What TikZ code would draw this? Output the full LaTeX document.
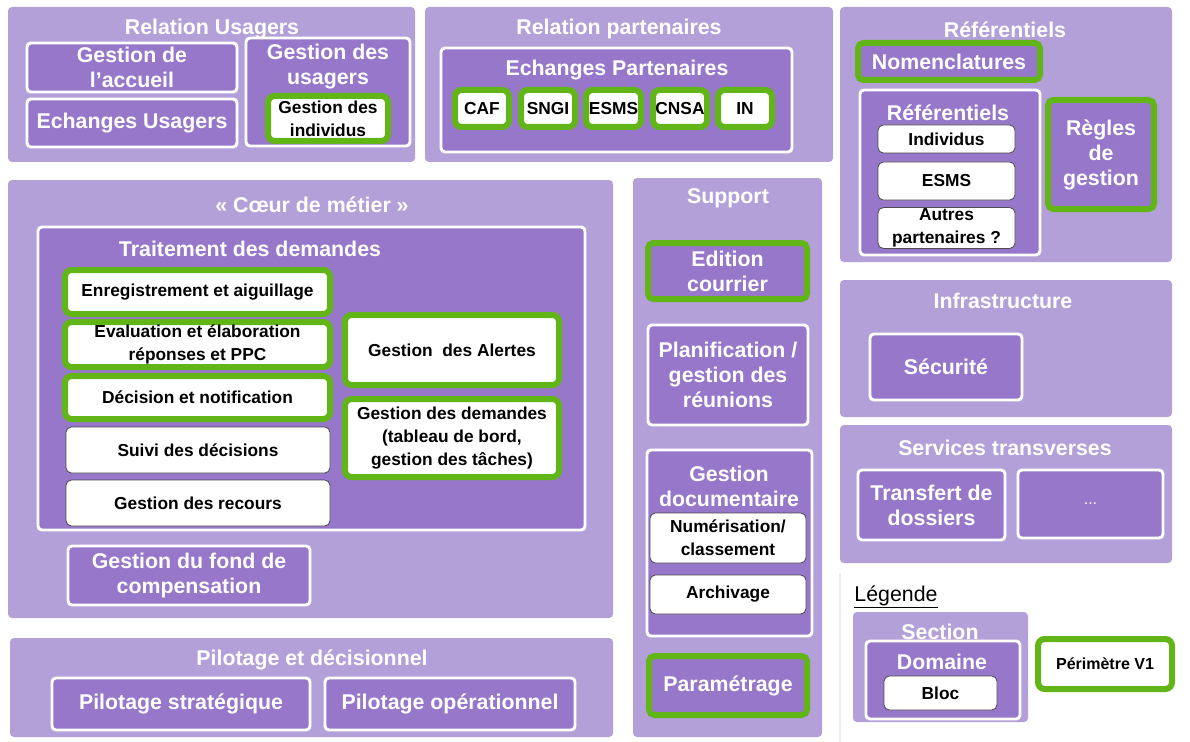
\documentclass[tikz,border=0pt]{standalone}
\usepackage{fontspec}
\setmainfont{Liberation Sans}
\definecolor{secL}{HTML}{B4A0D8}
\definecolor{domP}{HTML}{9677C9}
\definecolor{grn}{HTML}{62B516}
\newcommand\myTfont{\bfseries\fontsize{16}{18.75}\selectfont}
\newcommand\myBfont{\bfseries\fontsize{13}{17}\selectfont}
\newcommand\mySfont{\bfseries\fontsize{12}{16}\selectfont}
\newcommand\bx[7]{\node[#2, minimum width={(#5-#3)*0.75pt}, minimum height={(#6-#4)*0.75pt}] (#1) at ({(#3+#5)/2},{(#4+#6)/2}) {#7};}
\tikzset{
 sec/.style={fill=secL, rounded corners=3pt, inner sep=1pt},
 dom/.style={fill=domP, draw=white, line width=2.2pt, rounded corners=3pt, text=white, font=\myTfont, align=center, inner sep=1pt},
 blk/.style={fill=white, draw=black!70, line width=0.6pt, rounded corners=4pt, text=black, font=\myBfont, align=center, inner sep=1pt},
 gblk/.style={fill=white, draw=grn, line width=4.5pt, rounded corners=5pt, text=black, font=\myBfont, align=center, inner sep=1pt},
 gdom/.style={fill=domP, draw=grn, line width=4.5pt, rounded corners=4pt, text=white, font=\myTfont, align=center, inner sep=1pt},
 ttl/.style={text=white, font=\myTfont, align=center, inner sep=0pt},
}
\begin{document}
\begin{tikzpicture}[x=0.75pt,y=-0.75pt]
\useasboundingbox[fill=white] (0,0) rectangle (1190,742);
% ---------- Relation Usagers
\bx{ru}{sec}{8}{7}{415}{162}{}
\node[ttl] (ru-t) at (212,29) {Relation Usagers};
\bx{acc}{dom}{27}{43}{237}{92}{Gestion de\\l’accueil}
\bx{echu}{dom}{27}{99}{237}{147}{Echanges Usagers}
\bx{gu}{dom}{246}{38}{410}{146}{}
\node[ttl] (gu-t) at (328,67) {Gestion des\\usagers};
\bx{gi}{gblk}{268}{96}{388}{141}{Gestion des\\individus}
% ---------- Relation partenaires
\bx{rp}{sec}{425}{7}{833}{162}{}
\node[ttl] (rp-t) at (619,29) {Relation partenaires};
\bx{ep}{dom}{441}{48}{792}{152}{}
\node[ttl] (ep-t) at (617,70) {Echanges Partenaires};
\bx{caf}{gblk}{455}{90}{509}{127}{CAF}
\bx{sngi}{gblk}{521}{90}{575}{127}{SNGI}
\bx{pesms}{gblk}{586}{90}{641}{127}{ESMS}
\bx{cnsa}{gblk}{653}{90}{707}{127}{CNSA}
\bx{in}{gblk}{718}{90}{772}{127}{IN}
% ---------- Referentiels
\bx{ref}{sec}{840}{7}{1172}{262}{}
\node[ttl] (ref-t) at (1005,30) {Référentiels};
\bx{nom}{gdom}{858}{43}{1040}{80}{Nomenclatures}
\bx{refd}{dom}{860}{90}{1040}{255}{}
\node[ttl] (refd-t) at (948,113) {Référentiels};
\bx{ind}{blk}{878}{125}{1015}{153}{Individus}
\bx{resms}{blk}{878}{162}{1015}{200}{ESMS}
\bx{autres}{blk}{878}{209}{1015}{247}{Autres\\partenaires ?}
\bx{regles}{gdom}{1048}{100}{1154}{209}{Règles\\de\\gestion}
% ---------- Coeur de metier
\bx{coeur}{sec}{8}{180}{613}{618}{}
\node[ttl] (coeur-t) at (312,205) {« Cœur de métier »};
\bx{trt}{dom}{38}{227}{585}{530}{}
\node[ttl] (trt-t) at (250,249) {Traitement des demandes};
\bx{enr}{gblk}{65}{270}{330}{314}{Enregistrement et aiguillage}
\bx{eva}{gblk}{65}{322}{330}{367}{Evaluation et élaboration\\réponses et PPC}
\bx{dec}{gblk}{65}{376}{330}{419}{Décision et notification}
\bx{suivi}{blk}{66}{427}{330}{473}{Suivi des décisions}
\bx{recours}{blk}{66}{480}{330}{526}{Gestion des recours}
\bx{alertes}{gblk}{345}{315}{559}{385}{Gestion \ des Alertes}
\bx{dem}{gblk}{345}{399}{559}{477}{Gestion des demandes\\(tableau de bord,\\gestion des tâches)}
\bx{fond}{dom}{68}{546}{310}{605}{Gestion du fond de\\compensation}
% ---------- Support
\bx{sup}{sec}{633}{178}{822}{737}{}
\node[ttl] (sup-t) at (728,198) {Support};
\bx{edit}{gdom}{648}{243}{807}{299}{Edition\\courrier}
\bx{plan}{dom}{648}{325}{808}{425}{Planification /\\gestion des\\réunions}
\bx{gdoc}{dom}{647}{450}{812}{636}{}
\node[ttl] (gdoc-t) at (729,486) {Gestion\\documentaire};
\bx{num}{blk}{650}{513}{806}{563}{Numérisation/\\classement}
\bx{arch}{blk}{650}{575}{806}{614}{Archivage}
\bx{param}{gdom}{649}{656}{807}{715}{Paramétrage}
% ---------- Infrastructure
\bx{inf}{sec}{840}{280}{1172}{417}{}
\node[ttl] (inf-t) at (1003,301) {Infrastructure};
\bx{secu}{dom}{870}{334}{1022}{400}{Sécurité}
% ---------- Services transverses
\bx{svc}{sec}{840}{425}{1172}{563}{}
\node[ttl] (svc-t) at (1005,448) {Services transverses};
\bx{transf}{dom}{858}{470}{1005}{540}{Transfert de\\dossiers}
\bx{dots}{dom}{1018}{470}{1163}{538}{\mdseries\fontsize{12}{14}\selectfont ...}
% ---------- Legende
\coordinate (lgA) at (840,573);
\coordinate (lgB) at (840,742);
\draw[black!7, line width=0.8pt] (lgA) -- (lgB);
\node[text=black, font=\fontsize{16}{18}\selectfont, inner sep=0pt] (leg) at (896,597) {\underline{Légende}};
\bx{lsec}{sec}{853}{612}{1028}{722}{}
\node[ttl] (lsec-t) at (940,632) {Section};
\bx{ldom}{dom}{866}{641}{1020}{719}{}
\node[ttl] (ldom-t) at (942,662) {Domaine};
\bx{bloc}{blk}{884}{676}{997}{710}{Bloc}
\bx{perim}{gblk}{1038}{639}{1172}{689}{\mySfont Périmètre V1}
% ---------- Pilotage
\bx{pil}{sec}{10}{638}{613}{737}{}
\node[ttl] (pil-t) at (312,660) {Pilotage et décisionnel};
\bx{ps}{dom}{52}{678}{310}{730}{Pilotage stratégique}
\bx{po}{dom}{325}{678}{575}{730}{Pilotage opérationnel}
\end{tikzpicture}
\end{document}
